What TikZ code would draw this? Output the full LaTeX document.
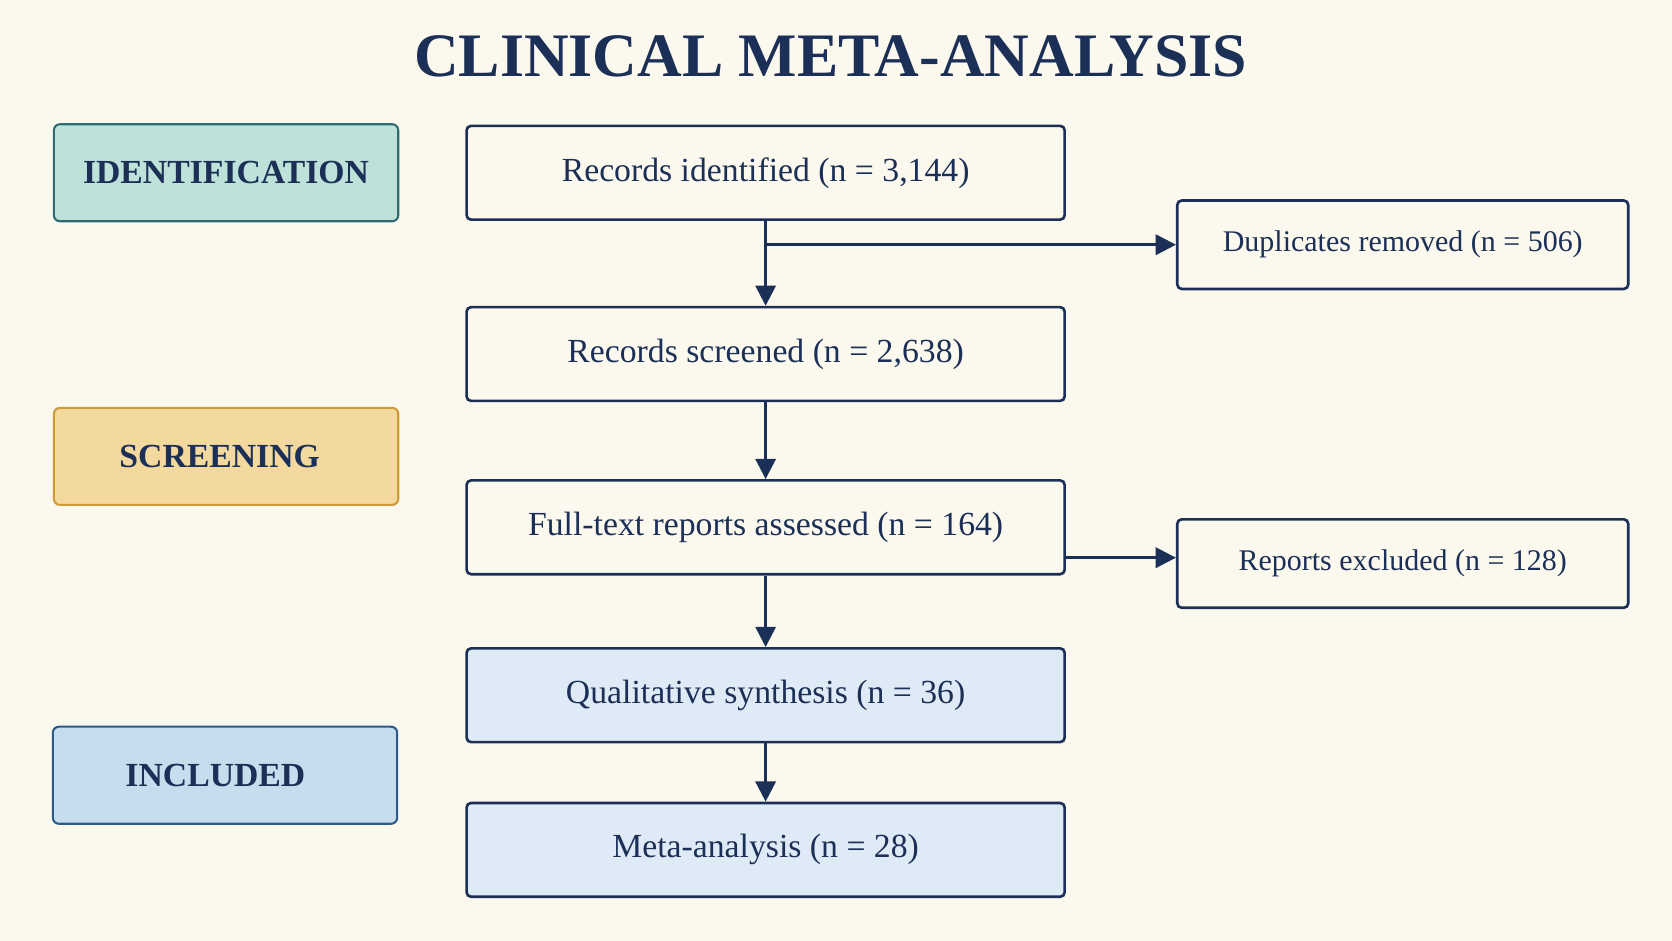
\documentclass[tikz,border=0pt]{standalone}
\usepackage{fontspec}
\setmainfont{Liberation Serif}
\usetikzlibrary{arrows.meta}

\definecolor{paper}{HTML}{FBF8EE}
\definecolor{navy}{HTML}{1B2F57}
\definecolor{tealfill}{HTML}{BEE2D9}
\definecolor{tealline}{HTML}{2F6C72}
\definecolor{goldfill}{HTML}{F3D99E}
\definecolor{goldline}{HTML}{CF9A3A}
\definecolor{bluefill}{HTML}{C7DCEC}
\definecolor{blueline}{HTML}{2C5A8A}
\definecolor{palefill}{HTML}{DEEAF5}

\tikzset{
    stage/.style={draw, rounded corners=3.2pt, line width=1.1pt, minimum width=6.46cm, minimum height=1.82cm,
        text=navy, font=\fontsize{18}{20}\selectfont\bfseries},
    flow/.style={draw=navy, rounded corners=2.4pt, line width=1.4pt, fill=paper, minimum width=11.22cm, minimum height=1.76cm,
        text=navy, font=\fontsize{18}{20}\selectfont},
    side/.style={flow, minimum width=8.46cm, minimum height=1.66cm, font=\fontsize{16}{18}\selectfont},
    link/.style={draw=navy, line width=1.4pt, -{Triangle[length=3.8mm,width=3.8mm]}},
}

\begin{document}
\begin{tikzpicture}[x=0.02cm,y=-0.02cm]
    \fill[paper](0,0)rectangle(1568,882);

    \node[text=navy, font=\fontsize{33}{35}\selectfont\bfseries] (title) at (779,53) {CLINICAL META-ANALYSIS};

    % stages
    \node[stage, fill=tealfill, draw=tealline] (ident) at (212,162) {IDENTIFICATION};
    \node[stage, fill=goldfill, draw=goldline] (screen) at (212,428) {\hspace*{-0.24cm}SCREENING};
    \node[stage, fill=bluefill, draw=blueline] (incl) at (211,727) {\hspace*{-0.36cm}INCLUDED};

    % main column
    \node[flow] (found) at (718,162) {Records identified (n = 3,144)};
    \node[flow] (screened) at (718,332) {Records screened (n = 2,638)};
    \node[flow] (fulltext) at (718,494.5) {Full-text reports assessed (n = 164)};
    \node[flow, fill=palefill] (quali) at (718,652) {Qualitative synthesis (n = 36)};
    \node[flow, fill=palefill] (meta) at (718,797) {Meta-analysis (n = 28)};

    % exclusions
    \node[side] (dupes) at (1315.5,229.5) {Duplicates removed (n = 506)};
    \node[side] (excl) at (1315.5,528.5) {Reports excluded (n = 128)};

    \coordinate (split) at (found.south |- dupes.west);
    \draw[link](found)--(screened);
    \draw[link](split)--(dupes);
    \draw[link](screened)--(fulltext);
    \draw[link](fulltext.east |- 0,523)--(excl.west |- 0,523);
    \draw[link](fulltext)--(quali);
    \draw[link](quali)--(meta);
\end{tikzpicture}
\end{document}
